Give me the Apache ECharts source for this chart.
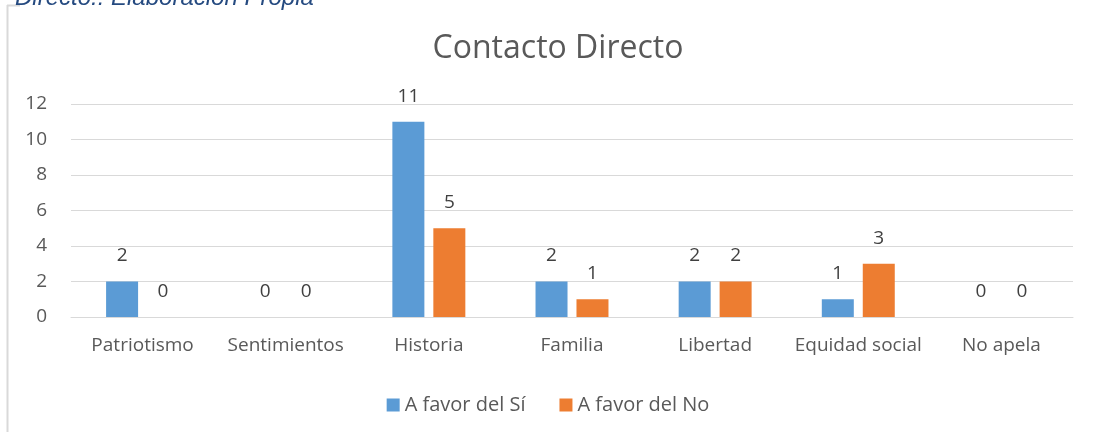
<!DOCTYPE html>
<html><head><meta charset="utf-8">
<script src="https://cdn.jsdelivr.net/npm/echarts@6/dist/echarts.min.js"></script>
<style>html,body{margin:0;padding:0;background:#fff}#c{width:1096px;height:432px}</style>
</head><body><div id="c"></div>
<script>
const categories = ['Patriotismo','Sentimientos','Historia','Familia','Libertad','Equidad social','No apela'];
const favorSi = [2,0,11,2,2,1,0];
const favorNo = [0,0,5,1,2,3,0];
const seriesNames = ['A favor del Sí','A favor del No'];
const yTicks = {min:0,max:12,interval:2};
const FONT = '"Open Sans", sans-serif';
const chart = echarts.init(document.getElementById('c'));
const lbl = {show:true,position:'top',distance:16,color:'#404040',fontSize:19,fontFamily:FONT};
chart.setOption({
  animation:false,
  title:{text:'Contacto Directo',left:553,textAlign:'center',top:28,textStyle:{fontFamily:FONT,fontSize:32,fontWeight:'normal',color:'#595959'}},
  legend:{top:390,left:'center',itemWidth:13,itemHeight:13,itemGap:34,icon:'rect',textStyle:{fontFamily:FONT,fontSize:20,color:'#595959'}},
  grid:{left:71,right:23,top:104,bottom:115},
  xAxis:{type:'category',data:categories,axisTick:{show:false},axisLine:{lineStyle:{color:'#d9d9d9',width:1}},
    axisLabel:{interval:0,margin:19,fontFamily:FONT,fontSize:19,color:'#595959'}},
  yAxis:{type:'value',min:yTicks.min,max:yTicks.max,interval:yTicks.interval,axisLine:{show:false},axisTick:{show:false},
    splitLine:{lineStyle:{color:'#d9d9d9',width:1}},axisLabel:{margin:24,fontFamily:FONT,fontSize:19,color:'#595959'}},
  series:[
    {name:seriesNames[0],type:'bar',data:favorSi,barWidth:32,barGap:'28%',itemStyle:{color:'#5B9BD5'},label:lbl},
    {name:seriesNames[1],type:'bar',data:favorNo,barWidth:32,itemStyle:{color:'#ED7D31'},label:lbl}
  ],
  graphic:[
    {type:'line',shape:{x1:7.5,y1:5,x2:7.5,y2:432},style:{stroke:'#d9d9d9',lineWidth:2}},
    {type:'line',shape:{x1:7,y1:5.5,x2:20,y2:5.5},style:{stroke:'#d9d9d9',lineWidth:2}},
    {type:'text',left:15,top:-14,style:{text:'Directo.: Elaboración Propia',font:'italic 24px "Liberation Sans", Arial, sans-serif',fill:'#254A80'}}
  ]
});
</script></body></html>
